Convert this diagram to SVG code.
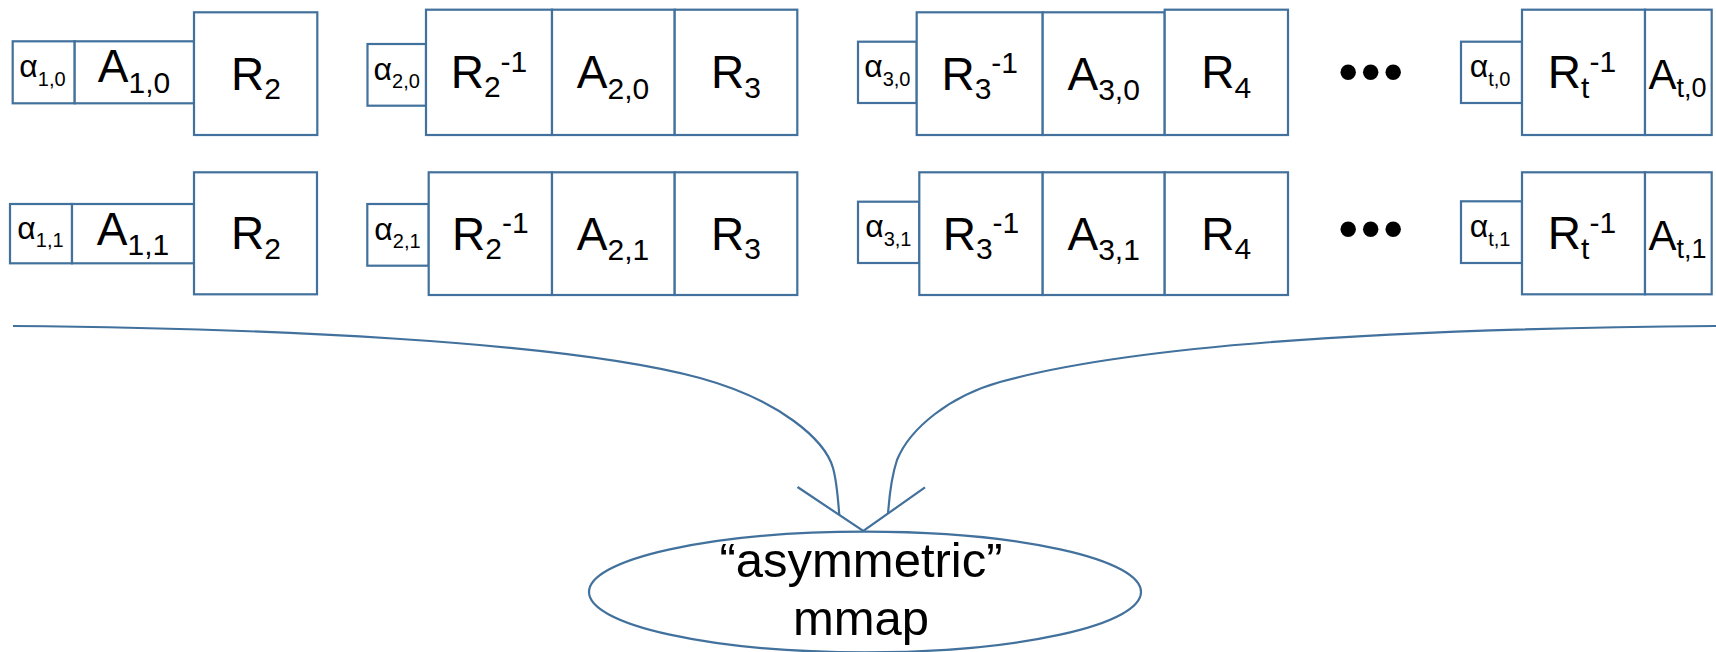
<svg xmlns="http://www.w3.org/2000/svg" width="1716" height="652" viewBox="0 0 1716 652">
  <style>
    .box { fill: #ffffff; stroke: #41719c; stroke-width: 2.2; }
    .t { font-family: "Liberation Sans", Arial, sans-serif; fill: #000000; text-anchor: middle; }
    .big { font-size: 46px; }
    .sm { font-size: 30px; }
    .ga { font-size: 32px; }
    .gs { font-size: 20px; }
    .at { font-size: 42px; }
    .ats { font-size: 27px; }
    .dots { font-family: "Liberation Sans", Arial, sans-serif; font-weight: bold; font-size: 54px; letter-spacing: 3.6px; text-anchor: middle; fill: #000000; }
    .link { fill: none; stroke: #41719c; stroke-width: 2.2; }
    .oval { fill: #ffffff; stroke: #41719c; stroke-width: 2.2; }
    .label { font-family: "Liberation Sans", Arial, sans-serif; font-size: 49px; fill: #000000; text-anchor: middle; }
  </style>

  <!-- connectors: two curves merging into an open arrowhead -->
  <g id="connectors">
    <path class="link" d="M13,326 C250,328 560,340 700,378 C780,400 825,440 833,468 C837,482 838,500 839.3,515"/>
    <path class="link" d="M1716,326 C1450,328 1150,340 1000,382 C950,396 910,428 897,460 C891,478 889,500 888,514"/>
    <polyline class="link" points="797.5,487 863.3,531 925,487.3"/>
  </g>

  <!-- row 0 -->
  <g id="alpha-1-0"><rect class="box" x="12.7" y="41.3" width="62" height="62"/>
    <text class="t ga" x="42.5" y="77.3">α<tspan class="gs" dy="8.5">1,0</tspan></text></g>
  <g id="A-1-0"><rect class="box" x="74.7" y="41.3" width="119.3" height="62"/>
    <text class="t big" x="134" y="82.3">A<tspan class="sm" dy="10.4">1,0</tspan></text></g>
  <g id="R2-a"><rect class="box" x="194" y="12.3" width="123.3" height="122.7"/>
    <text class="t big" x="256" y="89.5">R<tspan class="sm" dy="9.5">2</tspan></text></g>

  <g id="alpha-2-0"><rect class="box" x="367.5" y="44" width="58.5" height="61.7"/>
    <text class="t ga" x="396.7" y="79.8">α<tspan class="gs" dy="8.5">2,0</tspan></text></g>
  <g id="R2inv-a"><rect class="box" x="426" y="9.7" width="126" height="125.3"/>
    <text class="t big" x="489" y="88.3">R<tspan class="sm" dy="9">2</tspan><tspan class="sm" dy="-25.6">-1</tspan></text></g>
  <g id="A-2-0"><rect class="box" x="552" y="9.7" width="122.7" height="125.3"/>
    <text class="t big" x="613" y="88.3">A<tspan class="sm" dy="10.7">2,0</tspan></text></g>
  <g id="R3-a"><rect class="box" x="674.7" y="9.7" width="122.6" height="125.3"/>
    <text class="t big" x="736" y="88.3">R<tspan class="sm" dy="9.5">3</tspan></text></g>

  <g id="alpha-3-0"><rect class="box" x="858" y="41.7" width="58.7" height="61.3"/>
    <text class="t ga" x="887.3" y="77.3">α<tspan class="gs" dy="8.5">3,0</tspan></text></g>
  <g id="R3inv-a"><rect class="box" x="916.7" y="12.3" width="126" height="122.7"/>
    <text class="t big" x="979.7" y="89.6">R<tspan class="sm" dy="9">3</tspan><tspan class="sm" dy="-25.6">-1</tspan></text></g>
  <g id="A-3-0"><rect class="box" x="1042.7" y="12.3" width="122" height="122.7"/>
    <text class="t big" x="1103.7" y="89.6">A<tspan class="sm" dy="10.7">3,0</tspan></text></g>
  <g id="R4-a"><rect class="box" x="1164.7" y="9.7" width="123.3" height="125.3"/>
    <text class="t big" x="1226.3" y="88.3">R<tspan class="sm" dy="9.5">4</tspan></text></g>

  <g id="ellipsis-0"><text class="dots" x="1372.6" y="89.5">•••</text></g>

  <g id="alpha-t-0"><rect class="box" x="1461" y="41.7" width="61" height="61.3"/>
    <text class="t ga" x="1490" y="77.3">α<tspan class="gs" dy="8.5">t,0</tspan></text></g>
  <g id="Rtinv-a"><rect class="box" x="1522" y="9.7" width="123" height="125.3"/>
    <text class="t big" x="1582" y="88.3">R<tspan class="sm" dy="10">t</tspan><tspan class="sm" dy="-26.6">-1</tspan></text></g>
  <g id="A-t-0"><rect class="box" x="1645" y="9.7" width="66.7" height="125.3"/>
    <text class="t at" x="1677.5" y="89">A<tspan class="ats" dy="8">t,0</tspan></text></g>

  <!-- row 1 -->
  <g id="alpha-1-1"><rect class="box" x="10" y="204" width="62" height="59.3"/>
    <text class="t ga" x="40.5" y="238.7">α<tspan class="gs" dy="8.5">1,1</tspan></text></g>
  <g id="A-1-1"><rect class="box" x="72" y="204" width="122" height="59.3"/>
    <text class="t big" x="133" y="245">A<tspan class="sm" dy="10">1,1</tspan></text></g>
  <g id="R2-b"><rect class="box" x="194" y="172.3" width="123" height="122"/>
    <text class="t big" x="256" y="249.3">R<tspan class="sm" dy="9.5">2</tspan></text></g>

  <g id="alpha-2-1"><rect class="box" x="367.3" y="204" width="61.4" height="61.7"/>
    <text class="t ga" x="397.5" y="239.8">α<tspan class="gs" dy="8.5">2,1</tspan></text></g>
  <g id="R2inv-b"><rect class="box" x="428.7" y="172.3" width="123.3" height="122.7"/>
    <text class="t big" x="490.3" y="249.6">R<tspan class="sm" dy="9">2</tspan><tspan class="sm" dy="-25.6">-1</tspan></text></g>
  <g id="A-2-1"><rect class="box" x="552" y="172.3" width="122.7" height="122.7"/>
    <text class="t big" x="613" y="249.6">A<tspan class="sm" dy="10.7">2,1</tspan></text></g>
  <g id="R3-b"><rect class="box" x="674.7" y="172.3" width="122.6" height="122.7"/>
    <text class="t big" x="736" y="249.6">R<tspan class="sm" dy="9.5">3</tspan></text></g>

  <g id="alpha-3-1"><rect class="box" x="858" y="201.7" width="61.3" height="61.3"/>
    <text class="t ga" x="888.3" y="237.3">α<tspan class="gs" dy="8.5">3,1</tspan></text></g>
  <g id="R3inv-b"><rect class="box" x="919.3" y="172.3" width="123.4" height="122.7"/>
    <text class="t big" x="981" y="249.6">R<tspan class="sm" dy="9">3</tspan><tspan class="sm" dy="-25.6">-1</tspan></text></g>
  <g id="A-3-1"><rect class="box" x="1042.7" y="172.3" width="122" height="122.7"/>
    <text class="t big" x="1103.7" y="249.6">A<tspan class="sm" dy="10.7">3,1</tspan></text></g>
  <g id="R4-b"><rect class="box" x="1164.7" y="172.3" width="123.3" height="122.7"/>
    <text class="t big" x="1226.3" y="249.6">R<tspan class="sm" dy="9.5">4</tspan></text></g>

  <g id="ellipsis-1"><text class="dots" x="1372.6" y="247.1">•••</text></g>

  <g id="alpha-t-1"><rect class="box" x="1461" y="201.3" width="61" height="61.7"/>
    <text class="t ga" x="1490" y="237.2">α<tspan class="gs" dy="8.5">t,1</tspan></text></g>
  <g id="Rtinv-b"><rect class="box" x="1522" y="172.3" width="123" height="122"/>
    <text class="t big" x="1582" y="249.3">R<tspan class="sm" dy="10">t</tspan><tspan class="sm" dy="-26.6">-1</tspan></text></g>
  <g id="A-t-1"><rect class="box" x="1645" y="172.3" width="66.7" height="122"/>
    <text class="t at" x="1677.5" y="250">A<tspan class="ats" dy="8">t,1</tspan></text></g>

  <!-- target of both curves -->
  <g id="mmap">
    <ellipse class="oval" cx="865" cy="592" rx="276" ry="60.3"/>
    <text class="label" x="861" y="576.7">“asymmetric”</text>
    <text class="label" x="861" y="634.5">mmap</text>
  </g>
</svg>
